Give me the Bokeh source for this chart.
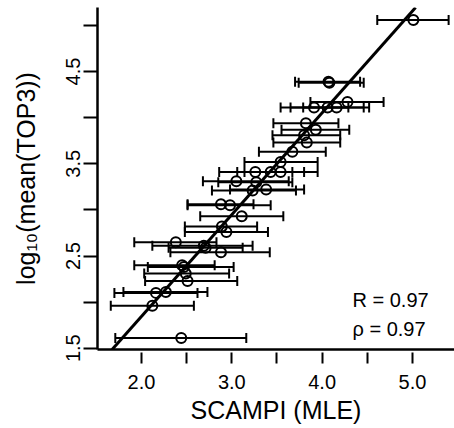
import math
from bokeh.plotting import figure
from bokeh.models import (Range1d, FixedTicker, Whisker, TeeHead, ColumnDataSource,
                          Slope, Label)
from bokeh.embed import file_html
from bokeh.resources import INLINE

# ---- data ----
scampi = [5.01, 4.07, 4.08, 4.28, 3.91, 4.06, 4.16, 3.82, 3.93, 3.80, 3.83, 3.67,
          3.54, 3.26, 3.43, 3.54, 3.05, 3.27, 3.23, 3.38, 2.88, 2.98, 3.11, 2.89,
          2.94, 2.38, 2.69, 2.71, 2.88, 2.45, 2.47, 2.49, 2.51, 2.16, 2.27, 2.12, 2.44]
top3 = [5.06, 4.39, 4.38, 4.17, 4.11, 4.11, 4.11, 3.94, 3.87, 3.81, 3.73, 3.63,
        3.52, 3.41, 3.41, 3.41, 3.31, 3.30, 3.21, 3.22, 3.06, 3.05, 2.93, 2.82,
        2.76, 2.65, 2.61, 2.59, 2.54, 2.40, 2.38, 2.31, 2.23, 2.10, 2.11, 1.96, 1.61]
scampi_lo = [4.61, 3.70, 3.74, 3.87, 3.54, 3.65, 3.79, 3.46, 3.55, 3.45, 3.46, 3.30,
             3.14, 2.86, 3.06, 3.14, 2.68, 2.85, 2.78, 2.98, 2.51, 2.51, 2.65, 2.48,
             2.48, 1.92, 2.12, 2.30, 2.32, 1.92, 2.07, 2.03, 2.04, 1.70, 1.80, 1.66, 1.71]
scampi_hi = [5.40, 4.42, 4.46, 4.68, 4.29, 4.46, 4.52, 4.18, 4.30, 4.20, 4.20, 4.04,
             3.95, 3.67, 3.80, 3.95, 3.63, 3.67, 3.71, 3.80, 3.24, 3.43, 3.57, 3.28,
             3.40, 2.83, 3.23, 3.12, 3.42, 2.81, 3.02, 2.97, 3.06, 2.62, 2.73, 2.58, 3.16]
fit_intercept = -0.363
fit_slope = 1.104
x_ticks = [2.0, 2.5, 3.0, 3.5, 4.0, 4.5, 5.0]
x_tick_labels = ["2.0", "", "3.0", "", "4.0", "", "5.0"]
y_ticks = [1.5, 2.0, 2.5, 3.0, 3.5, 4.0, 4.5, 5.0]
y_tick_labels = ["1.5", "", "2.5", "", "3.5", "", "4.5", ""]
stats_text = ["R = 0.97", "\u03c1 = 0.97"]
stats_y = [2.028, 1.703]
stats_x = 4.336
x_title = "SCAMPI (MLE)"
y_title = "log\u2081\u2080(mean(TOP3))"

FONT = "Liberation Sans"

p = figure(width=454, height=428, output_backend="svg", toolbar_location=None,
           x_range=Range1d(1.513, 5.465), y_range=Range1d(1.486, 5.195),
           min_border_left=97, min_border_right=0, min_border_top=7,
           min_border_bottom=79)
p.outline_line_color = None
p.xgrid.visible = False
p.ygrid.visible = False
p.background_fill_color = "white"
p.border_fill_color = "white"

# x axis
xa = p.xaxis[0]
xa.ticker = FixedTicker(ticks=x_ticks)
xa.major_label_overrides = {t: l for t, l in zip(x_ticks, x_tick_labels)}
xa.minor_tick_line_color = None
xa.major_tick_in = -3
xa.major_tick_out = 14
xa.major_tick_line_width = 2
xa.axis_line_width = 2.5
xa.major_label_standoff = 11
xa.major_label_text_font = FONT
xa.major_label_text_font_size = "20px"
xa.major_label_text_color = "black"
xa.axis_label = x_title
xa.axis_label_text_font = FONT
xa.axis_label_text_font_size = "25px"
xa.axis_label_text_font_style = "normal"
xa.axis_label_text_color = "black"
xa.axis_label_standoff = 4

# y axis
ya = p.yaxis[0]
ya.ticker = FixedTicker(ticks=y_ticks)
ya.major_label_overrides = {t: l for t, l in zip(y_ticks, y_tick_labels)}
ya.minor_tick_line_color = None
ya.major_tick_in = 0
ya.major_tick_out = 14
ya.major_tick_line_width = 2
ya.axis_line_width = 2.5
ya.major_label_standoff = 3
ya.major_label_orientation = "parallel"
ya.major_label_text_font = FONT
ya.major_label_text_font_size = "20px"
ya.major_label_text_color = "black"
ya.axis_label = y_title
ya.axis_label_text_font = FONT
ya.axis_label_text_font_size = "25px"
ya.axis_label_text_font_style = "normal"
ya.axis_label_text_color = "black"
ya.axis_label_standoff = 24

src = ColumnDataSource(dict(x=scampi, y=top3, lo=scampi_lo, hi=scampi_hi))

w = Whisker(source=src, base="y", lower="lo", upper="hi", dimension="width",
            line_color="black", line_width=2,
            upper_head=TeeHead(size=10, line_width=2, line_color="black"),
            lower_head=TeeHead(size=10, line_width=2, line_color="black"))
p.add_layout(w)

p.scatter("x", "y", source=src, marker="circle", size=10, fill_color=None,
          line_color="black", line_width=2)

p.add_layout(Slope(gradient=fit_slope, y_intercept=fit_intercept,
                   line_color="black", line_width=3))

for t, yy in zip(stats_text, stats_y):
    p.add_layout(Label(x=stats_x, y=yy, text=t, text_font=FONT,
                       text_font_size="20px", text_color="black",
                       text_baseline="alphabetic", text_align="left"))

open("out.html", "w").write(file_html(p, INLINE))
